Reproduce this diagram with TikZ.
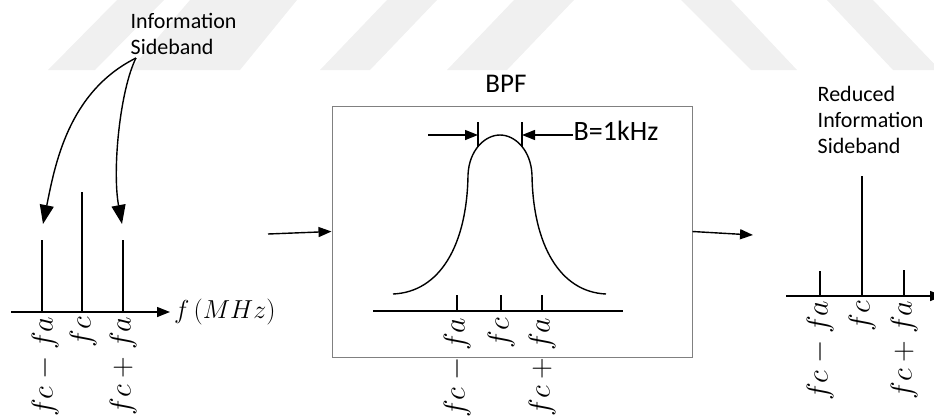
\RequirePackage{fix-cm}
\documentclass[tikz,border=0pt]{standalone}
\usepackage{fontspec}
\setmainfont{Carlito}
\usetikzlibrary{arrows.meta}

\definecolor{boxgray}{RGB}{128,128,128}
\definecolor{wmgray}{RGB}{240,240,240}

\tikzset{
  lbl/.style={font=\fontsize{22}{26}\selectfont, align=left, inner sep=0pt},
  freq/.style={font=\fontsize{30}{30}\selectfont, rotate=90, anchor=east, inner sep=0pt},
  bighead/.style={-{Triangle[length=19pt,width=14pt]}},
}

\begin{document}
\begin{tikzpicture}[x=1pt, y=-1pt, line width=1.4pt, >={Triangle[length=13pt,width=10pt]}]
    \useasboundingbox (0,0) rectangle (934,416);

    % light stripes behind everything
    \fill[wmgray] (48,70) -- (95,70) -- (164,0) -- (117,0) -- cycle;
    \fill[wmgray] (130,70) -- (240,70) -- (297,0) -- (190,0) -- cycle;
    \fill[wmgray] (320,70) -- (370,70) -- (437,0) -- (387,0) -- cycle;
    \fill[wmgray] (447,70) -- (507,70) -- (574,0) -- (514,0) -- cycle;
    \fill[wmgray] (681,0) -- (731,0) -- (797,70) -- (751,70) -- cycle;
    \fill[wmgray] (827,0) -- (873,0) -- (940,70) -- (893,70) -- cycle;

    % input spectrum
    \node[lbl, anchor=north west] (info) at (130,13) {Information\\Sideband};
    \coordinate (src) at (136,58);
    \coordinate (lsb) at (43,224);
    \coordinate (usb) at (122,224);
    \draw[bighead] (src) .. controls (68,92) and (55,165) .. (lsb);
    \draw[bighead] (src) .. controls (120,90) and (112,170) .. (usb);

    \draw[->] (11,312) -- (170,312) node[right, font=\fontsize{26}{26}\selectfont] (faxis) {$f\,(MHz)$};
    \draw (42,240) -- (42,312);
    \draw (82,192) -- (82,312);
    \draw (123,240) -- (123,312);
    \node[freq] (l1) at (45,316) {$fc-fa$};
    \node[freq] (l2) at (83,316) {$fc$};
    \node[freq] (l3) at (123,316) {$fc+fa$};

    % band-pass filter
    \node[draw=boxgray, line width=1pt, minimum width=360pt, minimum height=251pt, inner sep=0pt] (bpf) at (512,231.5) {};
    \node[font=\fontsize{27}{27}\selectfont, anchor=base, inner sep=0pt] (bpflbl) at (506,92) {BPF};
    \draw[->] (268,234) -- (bpf.west);

    \draw (373,311) -- (623,311);
    \foreach \x in {457,501,542}
      \draw (\x,295) -- (\x,311);
    \draw (393,294) .. controls (440,292) and (467,245) .. (468,175)
      .. controls (469,150) and (485,135) .. (500,135)
      .. controls (515,135) and (531,150) .. (532,175)
      .. controls (533,245) and (560,292) .. (606,294);

    \draw (478,122) -- (478,147);
    \draw (522,122) -- (522,147);
    \node[font=\fontsize{28}{28}\selectfont, anchor=base west, inner sep=0pt] (bw) at (573,140) {B=1kHz};
    \coordinate (bwl) at (428,135);
    \coordinate (bwa) at (478,135);
    \coordinate (bwb) at (522,135);
    \draw[->] (bwl) -- (bwa);
    \draw[->] (bw.west |- bwb) -- (bwb);

    \node[freq] (m1) at (457,317) {$fc-fa$};
    \node[freq] (m2) at (501,317) {$fc$};
    \node[freq] (m3) at (542,317) {$fc+fa$};

    % output spectrum
    \coordinate (out) at (753,235);
    \draw[->] (bpf.east) -- (out);

    \node[lbl, anchor=north west] (red) at (817,86) {Reduced\\Information\\Sideband};
    \draw[->] (786,296) -- (943,296);
    \draw (820,271) -- (820,296);
    \draw (862,176) -- (862,296);
    \draw (904,270) -- (904,296);
    \node[freq] (r1) at (820,300) {$fc-fa$};
    \node[freq] (r2) at (862,300) {$fc$};
    \node[freq] (r3) at (904,300) {$fc+fa$};
\end{tikzpicture}
\end{document}
